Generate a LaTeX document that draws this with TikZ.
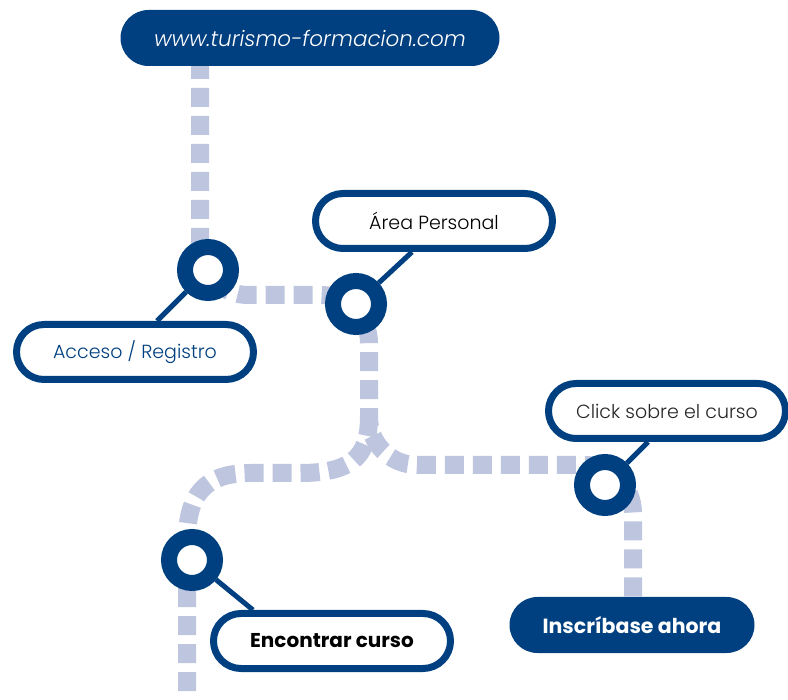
\documentclass[tikz,border=0pt]{standalone}
\usepackage{fontspec}
\setmainfont{Poppins}
\newfontfamily\lightfont{Poppins}[UprightFont=* Light,ItalicFont=* Light Italic,BoldFont=* Bold]
\definecolor{navy}{RGB}{0,64,128}
\definecolor{roadblue}{RGB}{190,198,223}
\tikzset{%
  stop/.style={circle,inner sep=0pt,minimum size=46pt,line width=16pt,draw=navy,fill=white},
  pill/.style={rounded corners=27.5pt,minimum width=237pt,minimum height=55pt,inner sep=0pt,
    line width=7pt,draw=navy,fill=white,font=\lightfont\fontsize{19}{22}\selectfont},
  button/.style={rounded corners=28pt,minimum height=56pt,inner sep=0pt,fill=navy,text=white},
  roadline/.style={line width=18pt,draw=roadblue,dash pattern=on 19pt off 9pt},
  leader/.style={line width=5pt,draw=navy}
}

\begin{document}
\begin{tikzpicture}[x=1pt,y=-1pt]
  \useasboundingbox (0,0) rectangle (788,700);
  % road
  \coordinate (r0) at (200,60);
  \coordinate (r1) at (200,295);
  \coordinate (r2) at (369,295);
  \coordinate (r3) at (369,465);
  \coordinate (r4) at (633,465);
  \coordinate (r5) at (633,600);
  \draw[roadline,rounded corners=48pt] (r0) -- (r1) -- (r2) -- (r3) -- (r4) -- (r5);
  \coordinate (b0) at (369,417);
  \coordinate (b1) at (300,473);
  \coordinate (b2) at (250,473);
  \coordinate (b3) at (187,540);
  \coordinate (b4) at (187,705);
  \draw[roadline] (b0) .. controls (369,458) and (350,473) .. (b1) -- (b2)
    .. controls (205,473) and (187,495) .. (b3) -- (b4);
  % stops
  \node[stop] (s1) at (208,270) {};
  \node[stop] (s2) at (356,304) {};
  \node[stop] (s3) at (605,485) {};
  \node[stop] (s4) at (192,560) {};
  % labels
  \node[button,minimum width=379pt,font=\lightfont\itshape\fontsize{21.5}{25}\selectfont] (web) at (310,38) {www.turismo-formacion.com};
  \node[pill] (area) at (434,221) {Área Personal};
  \node[pill,text=navy] (acceso) at (135,352) {Acceso / Registro};
  \node[pill,text=black!85] (click) at (667,411) {Click sobre el curso};
  \node[pill,font=\bfseries\fontsize{20}{24}\selectfont] (encontrar) at (332,641) {Encontrar curso};
  \node[button,minimum width=245pt,font=\bfseries\fontsize{20.5}{24}\selectfont] (inscribase) at (632,625) {Inscríbase ahora};
  % leaders
  \draw[leader] (s1) -- ([xshift=22pt]acceso.north);
  \draw[leader] (s2) -- ([xshift=-22pt]area.south);
  \draw[leader] (s3) -- ([xshift=-19pt]click.south);
  \draw[leader] (s4) -- ([xshift=-79pt]encontrar.north);
\end{tikzpicture}
\end{document}
